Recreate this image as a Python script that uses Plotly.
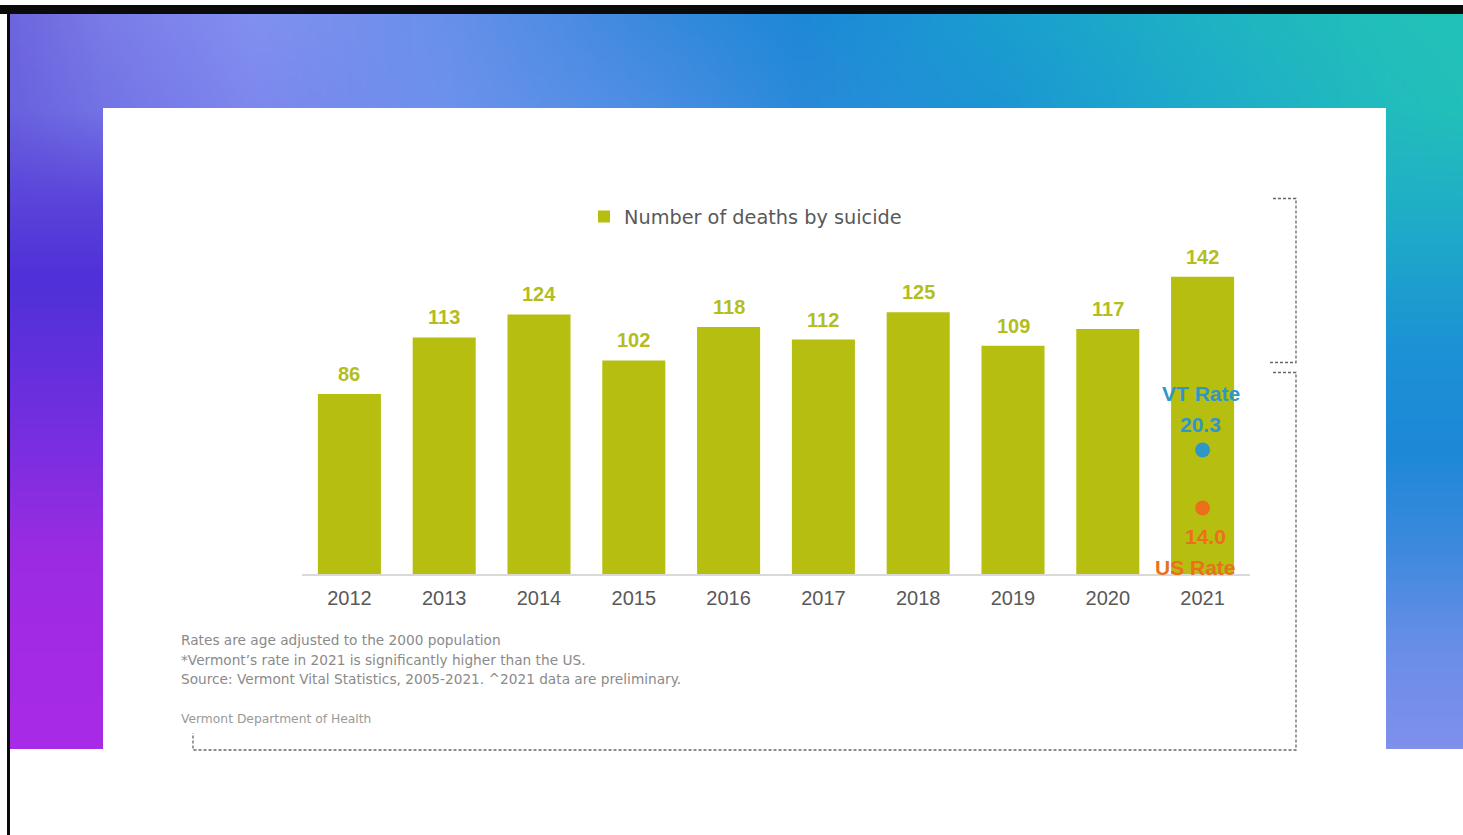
import base64
import struct
import zlib

import numpy as np
import plotly.graph_objects as go

# ---------------- data ----------------
years = ["2012", "2013", "2014", "2015", "2016", "2017", "2018", "2019", "2020", "2021"]
deaths = [86, 113, 124, 102, 118, 112, 125, 109, 117, 142]
legend_name = "Number of deaths by suicide"
rate_year = "2021"
rate_labels = ["VT Rate", "US Rate"]
rate_values = [20.3, 14.0]
footnotes = [
    "Rates are age adjusted to the 2000 population",
    "*Vermont\u2019s rate in 2021 is significantly higher than the US.",
    "Source: Vermont Vital Statistics, 2005-2021. ^2021 data are preliminary.",
]
credit = "Vermont Department of Health"

# ---------------- geometry helpers ----------------
W, H = 1463, 835
PL, PR, PT, PB = 302, 1250, 239, 574


def px(x):
    return (x - PL) / (PR - PL)


def py(y):
    return (PB - y) / (PB - PT)


# ---------------- background gradient (decoration) ----------------
def hx(c):
    return [int(c[i:i + 2], 16) for i in (1, 3, 5)]


gx = [10, 103, 250, 450, 650, 800, 1000, 1200, 1386, 1463]
row_top = ["#6e66de", "#7a7ce8", "#8290f0", "#6890ea", "#3a8ade", "#1e88d8",
           "#1a9ed0", "#1eb2c4", "#22c0ba", "#22c2b8"]
row_108 = ["#6a62de", "#7474e6", "#7e88ee", "#6c92ec", "#4c8ee4", "#2a8ada",
           "#1c96d4", "#1eaccb", "#22bcbe", "#22c0ba"]
gy_side = [200, 280, 350, 450, 550, 650, 749]
left_side = ["#5a44da", "#5030d8", "#6030dc", "#7c2ee0", "#9a2ce2", "#a42ae6", "#a82ae6"]
right_side = ["#20b0c6", "#1ea0ce", "#1c92d6", "#1e88d8", "#3e8ade", "#6a8ee8", "#8090ec"]

gy = [14, 108] + gy_side
ctrl = np.zeros((len(gy), len(gx), 3))
ctrl[0] = [hx(c) for c in row_top]
ctrl[1] = [hx(c) for c in row_108]
for i, (lc, rc) in enumerate(zip(left_side, right_side)):
    lv, rv = np.array(hx(lc)), np.array(hx(rc))
    for j in range(len(gx)):
        if j < 2:
            ctrl[i + 2, j] = lv
        elif j >= len(gx) - 2:
            ctrl[i + 2, j] = rv
        else:
            t = (gx[j] - gx[1]) / (gx[-2] - gx[1])
            ctrl[i + 2, j] = lv * (1 - t) + rv * t

iw, ih = 291, 148
xs = np.linspace(10, 1463, iw)
ys = np.linspace(14, 749, ih)
tmp = np.zeros((len(gy), iw, 3))
for i in range(len(gy)):
    for c in range(3):
        tmp[i, :, c] = np.interp(xs, gx, ctrl[i, :, c])
img = np.zeros((ih, iw, 3))
for j in range(iw):
    for c in range(3):
        img[:, j, c] = np.interp(ys, gy, tmp[:, j, c])
img = np.clip(img, 0, 255).astype(np.uint8)


def png_bytes(arr):
    h, w, _ = arr.shape
    raw = b"".join(b"\x00" + arr[r].tobytes() for r in range(h))

    def chunk(t, d):
        return struct.pack(">I", len(d)) + t + d + struct.pack(">I", zlib.crc32(t + d) & 0xFFFFFFFF)

    return (b"\x89PNG\r\n\x1a\n"
            + chunk(b"IHDR", struct.pack(">IIBBBBB", w, h, 8, 2, 0, 0, 0))
            + chunk(b"IDAT", zlib.compress(raw, 9))
            + chunk(b"IEND", b""))


grad_src = "data:image/png;base64," + base64.b64encode(png_bytes(img)).decode()

# ---------------- styles ----------------
FONT = "Liberation Sans, Arial, sans-serif"
WIDE = "DejaVu Sans, Liberation Sans, sans-serif"
BAR = "#b6be10"
LABEL = "#b4bd1e"
BLUE = "#2f97c8"
ORANGE = "#ec701c"
GRAY = "#595959"
NOTE = "#8a8a8a"

fig = go.Figure()
fig.add_trace(go.Bar(
    x=years, y=deaths, name=legend_name,
    marker=dict(color=BAR, line=dict(width=0)),
    hoverinfo="x+y",
))
fig.add_trace(go.Scatter(
    x=[rate_year] * len(rate_values), y=rate_values, yaxis="y2",
    mode="markers", showlegend=False,
    marker=dict(size=15, color=[BLUE, ORANGE], line=dict(width=0)),
    text=rate_labels, hoverinfo="text+y",
))

ann = []
for i, v in enumerate(deaths):
    ann.append(dict(x=i, y=v, xref="x", yref="y", text=str(v), showarrow=False,
                    yanchor="middle", yshift=20,
                    font=dict(family=FONT, size=20, color=LABEL, weight="bold")))

ri = years.index(rate_year)
ann.append(dict(x=ri, y=rate_values[0], xref="x", yref="y2", text=f"{rate_values[0]:.1f}",
                showarrow=False, yanchor="middle", yshift=26, xshift=-2,
                font=dict(family=FONT, size=21, color=BLUE, weight="bold")))
ann.append(dict(x=ri, y=rate_values[0], xref="x", yref="y2", text=rate_labels[0],
                showarrow=False, yanchor="middle", yshift=57, xshift=-2,
                font=dict(family=FONT, size=21, color=BLUE, weight="bold")))
ann.append(dict(x=ri, y=rate_values[1], xref="x", yref="y2", text=f"{rate_values[1]:.1f}",
                showarrow=False, yanchor="middle", yshift=-29, xshift=3,
                font=dict(family=FONT, size=21, color=ORANGE, weight="bold")))
ann.append(dict(x=ri, y=rate_values[1], xref="x", yref="y2", text=rate_labels[1],
                showarrow=False, yanchor="middle", yshift=-60, xshift=-7,
                font=dict(family=FONT, size=21, color=ORANGE, weight="bold")))

for i, line in enumerate(footnotes):
    ann.append(dict(x=px(179), y=py(640 + 19.5 * i), xref="paper", yref="paper", text=line,
                    showarrow=False, xanchor="left", yanchor="middle",
                    font=dict(family=WIDE, size=13.7, color=NOTE)))
ann.append(dict(x=px(179), y=py(719), xref="paper", yref="paper", text=credit,
                showarrow=False, xanchor="left", yanchor="middle",
                font=dict(family=WIDE, size=12.3, color="#9a9a9a")))


def rect(x0, y0, x1, y1, color):
    return dict(type="rect", xref="paper", yref="paper", x0=px(x0), x1=px(x1),
                y0=py(y1), y1=py(y0), fillcolor=color, line=dict(width=0), layer="below")


def path(points, dash="3px,2px"):
    d = "M " + " L ".join(f"{px(a):.5f},{py(b):.5f}" for a, b in points)
    return dict(type="path", xref="paper", yref="paper", path=d,
                line=dict(color="#666666", width=1.3, dash=dash), layer="above")


shapes = [
    rect(103, 108, 1386, 752, "white"),
    rect(0, 5, 1463, 14, "#0a0a0a"),
    rect(7, 5, 10, 835, "#0a0a0a"),
    path([(1273, 198.5), (1296, 198.5), (1296, 362.5), (1270, 362.5)]),
    path([(1273, 372.5), (1296, 372.5), (1296, 750), (193, 750), (193, 733)]),
]

fig.update_layout(
    width=W, height=H,
    margin=dict(l=PL, r=W - PR, t=PT, b=H - PB, pad=0),
    paper_bgcolor="white", plot_bgcolor="rgba(0,0,0,0)",
    bargap=0.335,
    font=dict(family=FONT, color=GRAY),
    showlegend=True,
    legend=dict(orientation="h", x=px(584), xanchor="left", y=py(217), yanchor="middle",
                bgcolor="rgba(0,0,0,0)", font=dict(family=WIDE, size=19.3, color=GRAY),
                borderwidth=0),
    xaxis=dict(type="category", showgrid=False, zeroline=False, showline=True,
               linecolor="#d9d9d9", linewidth=1.5, ticks="outside", ticklen=5,
               tickcolor="rgba(0,0,0,0)", tickfont=dict(family=FONT, size=20, color=GRAY),
               fixedrange=True, range=[-0.5, len(years) - 0.5]),
    yaxis=dict(range=[0, 160], visible=False, showgrid=False, fixedrange=True),
    yaxis2=dict(range=[6.83, 43.22], overlaying="y", visible=False, showgrid=False,
                fixedrange=True),
    annotations=ann,
    shapes=shapes,
    images=[dict(source=grad_src, xref="paper", yref="paper", x=px(10), y=py(14),
                 sizex=px(1463) - px(10), sizey=py(14) - py(749), sizing="stretch",
                 xanchor="left", yanchor="top", layer="below")],
)

fig.write_html("out.html", config={"displayModeBar": False},
               post_script="document.body.style.margin='0';")
